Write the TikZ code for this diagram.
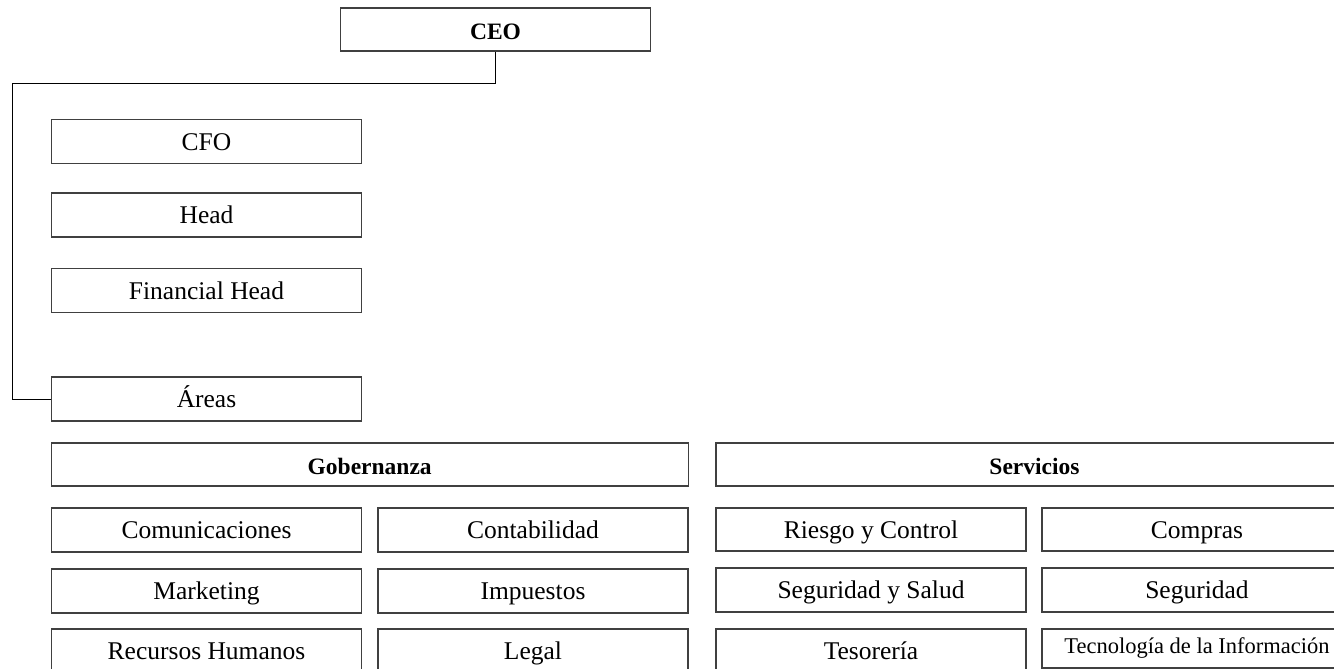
\documentclass[tikz,border=0pt]{standalone}
\usepackage{fontspec}
\setmainfont{Liberation Serif}
\tikzset{
  box/.style={draw=black!75, line width=1.2pt, fill=white, inner sep=0pt, minimum width=310pt, minimum height=44pt,
    font=\fontsize{25.5}{30}\selectfont, text height=17pt, text depth=0pt},
  wide/.style={box, minimum width=637pt, minimum height=43pt},
  bold/.style={font=\fontsize{23.5}{28}\selectfont\bfseries, text height=20pt},
  link/.style={draw=black, line width=1pt}
}
\begin{document}
\begin{tikzpicture}[x=1pt,y=-1pt]
\useasboundingbox (0,0) rectangle (1334,669);
\clip (0,0) rectangle (1334,669);
\node[box, bold, minimum height=43pt] (ceo) at (495.5,29.5) {CEO};
\node[box] (cfo) at (206.5,141.5) {CFO};
\node[box] (head) at (206.5,215) {Head};
\node[box] (fin) at (206.5,290.5) {Financial Head};
\node[box] (areas) at (206.5,399) {Áreas};
\coordinate (k1) at (12,84);
\draw[link] (ceo.south) |- (k1) |- (areas.west);
\node[wide, bold] (gob) at (369.7,464.5) {Gobernanza};
\node[box] (com) at (206.5,530) {Comunicaciones};
\node[box] (cont) at (533,530) {Contabilidad};
\node[box] (mkt) at (206.5,591) {Marketing};
\node[box] (imp) at (533,591) {Impuestos};
\node[box] (rrhh) at (206.5,651) {Recursos Humanos};
\node[box] (legal) at (533,651) {Legal};
\node[wide, bold] (serv) at (1034.5,464.5) {Servicios};
\node[box, minimum height=43pt] (riesgo) at (871,529.5) {Riesgo y Control};
\node[box, minimum height=43pt] (compras) at (1197,529.5) {Compras};
\node[box] (segsal) at (871,590) {Seguridad y Salud};
\node[box] (seg) at (1197,590) {Seguridad};
\node[box] (tes) at (871,651) {Tesorería};
\node[box, minimum height=39pt, font=\fontsize{22.5}{26}\selectfont, text height=9pt] (tec) at (1197,648.5) {Tecnología de la Información};
\end{tikzpicture}
\end{document}
